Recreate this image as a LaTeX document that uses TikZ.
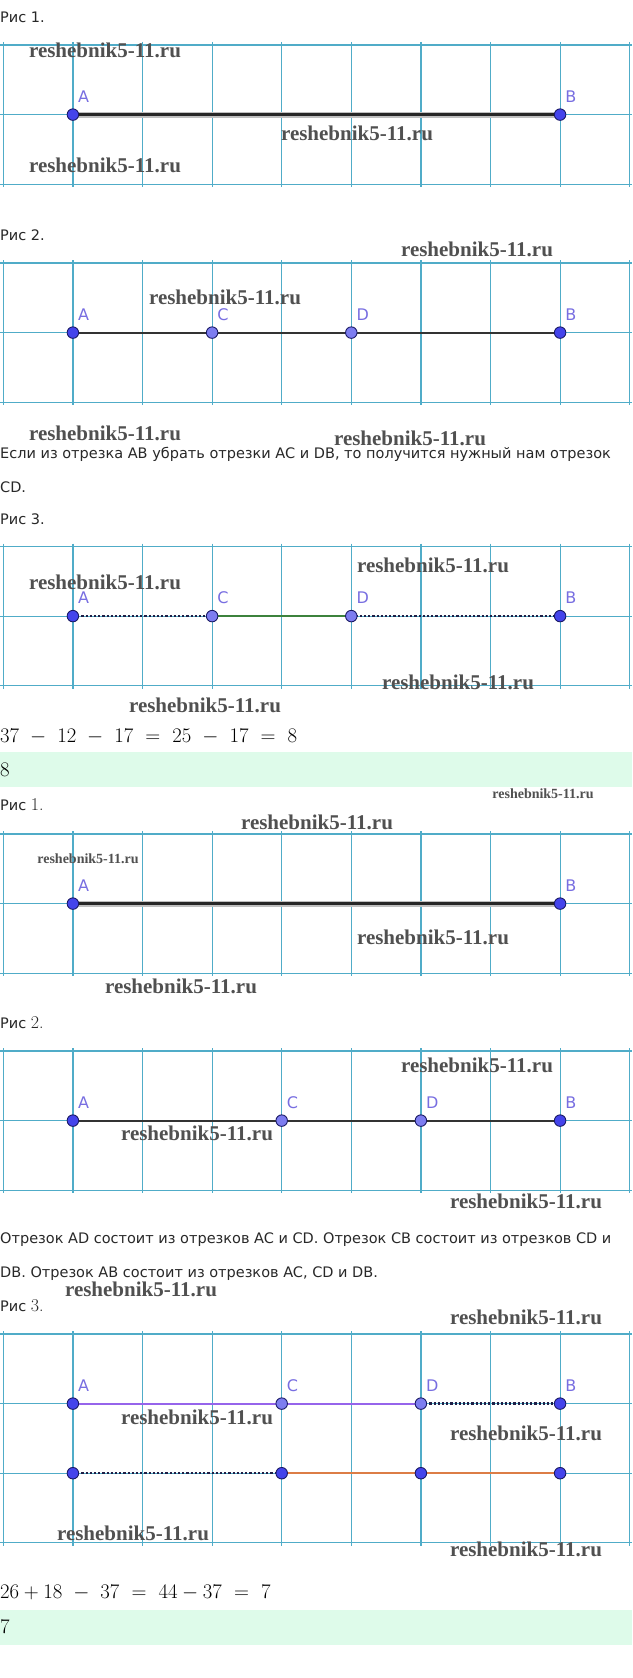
\documentclass[tikz,border=0pt]{standalone}
\usepackage{fontspec}
\newfontfamily\txtfont{DejaVu Sans}
\newfontfamily\wmfont{Liberation Serif}
\definecolor{gridblue}{RGB}{80,172,200}
\definecolor{ptblue}{RGB}{68,68,235}
\definecolor{ptedge}{RGB}{25,25,100}
\definecolor{ptlight}{RGB}{125,125,240}
\definecolor{lblblue}{RGB}{120,110,225}
\definecolor{segpurple}{RGB}{150,100,235}
\definecolor{segorange}{RGB}{220,125,70}
\definecolor{seggreen}{RGB}{60,130,60}
\definecolor{dotnavy}{RGB}{30,30,70}
\definecolor{bandgreen}{RGB}{222,251,234}
\definecolor{wmgray}{RGB}{80,80,80}
\definecolor{textgray}{RGB}{40,40,40}
\tikzset{
  gridline/.style={gridblue, line width=1.2},
  pt/.style={circle, inner sep=0, minimum size=11.5, fill=ptblue, draw=ptedge, line width=0.9},
  ptl/.style={pt, fill=ptlight},
  lbl/.style={font=\txtfont\fontsize{16}{16}\selectfont, text=lblblue, inner sep=0, anchor=base west, shift={(5,12.5)}},
  halo/.style={black!25, line width=6},
  boldseg/.style={black!85, line width=3},
  seg/.style={black!80, line width=2.2},
  dotseg/.style={dotnavy, line width=2.3, dash pattern=on 2.2 off 2},
  wm/.style={font=\wmfont\bfseries\fontsize{21}{21}\selectfont, text=wmgray, inner sep=0},
  wmsmall/.style={wm, font=\wmfont\bfseries\fontsize{14}{14}\selectfont},
  body/.style={font=\txtfont\fontsize{14.5}{16}\selectfont, text=textgray, inner sep=0, anchor=west},
  mathline/.style={font=\fontsize{21}{24}\selectfont, inner sep=0, anchor=west}
}
% grid band: top edge, number of rows
\newcommand{\gridband}[2]{%
  \foreach \r in {0,...,#2}
    \draw[gridline] (0,{-#1-69.6*\r}) -- (632,{-#1-69.6*\r});
  \foreach \k in {0,...,9}
    \draw[gridline] ({3.3+69.6*\k},{-#1+3}) -- ({3.3+69.6*\k},{-#1-69.6*#2-3});
}
\begin{document}
\begin{tikzpicture}[x=1pt, y=1pt]
    \useasboundingbox (0,0) rectangle (632,-1678);
    \fill[white] (0,0) rectangle (632,-1678);
    \fill[bandgreen] (0,-752) rectangle (632,-787);
    \fill[bandgreen] (0,-1610) rectangle (632,-1645);

    % grids
    \gridband{45}{2}
    \gridband{263}{2}
    \gridband{546.5}{2}
    \gridband{834}{2}
    \gridband{1051}{2}
    \gridband{1334}{3}

    % points
    \coordinate (A1) at (72.9,-114.6);
    \coordinate (B1) at (560.1,-114.6);
    \coordinate (A2) at (72.9,-332.6);
    \coordinate (C2) at (212.1,-332.6);
    \coordinate (D2) at (351.3,-332.6);
    \coordinate (B2) at (560.1,-332.6);
    \coordinate (A3) at (72.9,-616.1);
    \coordinate (C3) at (212.1,-616.1);
    \coordinate (D3) at (351.3,-616.1);
    \coordinate (B3) at (560.1,-616.1);
    \coordinate (A4) at (72.9,-903.6);
    \coordinate (B4) at (560.1,-903.6);
    \coordinate (A5) at (72.9,-1120.6);
    \coordinate (C5) at (281.7,-1120.6);
    \coordinate (D5) at (420.9,-1120.6);
    \coordinate (B5) at (560.1,-1120.6);
    \coordinate (A6) at (72.9,-1403.6);
    \coordinate (C6) at (281.7,-1403.6);
    \coordinate (D6) at (420.9,-1403.6);
    \coordinate (B6) at (560.1,-1403.6);
    \coordinate (A7) at (72.9,-1473.2);
    \coordinate (C7) at (281.7,-1473.2);
    \coordinate (D7) at (420.9,-1473.2);
    \coordinate (B7) at (560.1,-1473.2);

    % segments
    \draw[halo] (A1) -- (B1);
    \draw[boldseg] (A1) -- (B1);
    \draw[seg] (A2) -- (C2) -- (D2) -- (B2);
    \draw[dotseg] (A3) -- (C3);
    \draw[seggreen, line width=2.2] (C3) -- (D3);
    \draw[dotseg] (D3) -- (B3);
    \draw[halo] (A4) -- (B4);
    \draw[boldseg] (A4) -- (B4);
    \draw[seg] (A5) -- (C5) -- (D5) -- (B5);
    \draw[segpurple, line width=2.2] (A6) -- (C6) -- (D6);
    \draw[dotseg] (D6) -- (B6);
    \draw[dotseg] (A7) -- (C7);
    \draw[segorange, line width=2.2] (C7) -- (D7) -- (B7);

    % dots and letters
    \foreach \p/\s/\t in {A1/pt/A, B1/pt/B, A2/pt/A, C2/ptl/C, D2/ptl/D, B2/pt/B,
        A3/pt/A, C3/ptl/C, D3/ptl/D, B3/pt/B, A4/pt/A, B4/pt/B,
        A5/pt/A, C5/ptl/C, D5/ptl/D, B5/pt/B, A6/pt/A, C6/ptl/C, D6/ptl/D, B6/pt/B} {
      \node[\s] (dot\p) at (\p) {};
      \node[lbl] (lbl\p) at (\p) {\t};
    }
    \foreach \p in {A7, C7, D7, B7}
      \node[pt] (dot\p) at (\p) {};

    % text
    \node[body] (cap1) at (0,-17) {Рис 1.};
    \node[body] (cap2) at (0,-235) {Рис 2.};
    \node[body] (txt1) at (0,-454) {Если из отрезка AB убрать отрезки AC и DB, то получится нужный нам отрезок};
    \node[body] (txt2) at (0,-487) {CD.};
    \node[body] (cap3) at (0,-519) {Рис 3.};
    \node[mathline] (eq1) at (0,-737) {$37\ -\ 12\ -\ 17\ =\ 25\ -\ 17\ =\ 8$};
    \node[mathline] (ans1) at (0,-770) {$8$};
    \node[body] (cap4) at (0,-805) {Рис \normalfont\fontsize{18}{18}\selectfont 1.};
    \node[body] (cap5) at (0,-1023) {Рис \normalfont\fontsize{18}{18}\selectfont 2.};
    \node[body] (txt3) at (0,-1240) {Отрезок AD состоит из отрезков AC и CD. Отрезок CB состоит из отрезков CD и};
    \node[body] (txt4) at (0,-1274) {DB. Отрезок AB состоит из отрезков AC, CD и DB.};
    \node[body] (cap6) at (0,-1306) {Рис \normalfont\fontsize{18}{18}\selectfont 3.};
    \node[mathline] (eq2) at (0,-1593) {$26+18\ -\ 37\ =\ 44-37\ =\ 7$};
    \node[mathline] (ans2) at (0,-1627) {$7$};

    % watermarks
    \foreach \x/\y [count=\i] in {105/50, 357/133, 105/165, 477/249, 225/297, 105/433,
        410/438, 433/565, 105/582, 458/682, 205/705, 317/822, 433/937, 181/986,
        477/1065, 197/1133, 526/1201, 141/1289, 526/1317, 197/1417, 526/1433,
        133/1533, 526/1549}
      \node[wm] (wm\i) at (\x,-\y) {reshebnik5-11.ru};
    \node[wmsmall] (wms1) at (543,-794) {reshebnik5-11.ru};
    \node[wmsmall] (wms2) at (88,-859) {reshebnik5-11.ru};
\end{tikzpicture}
\end{document}
